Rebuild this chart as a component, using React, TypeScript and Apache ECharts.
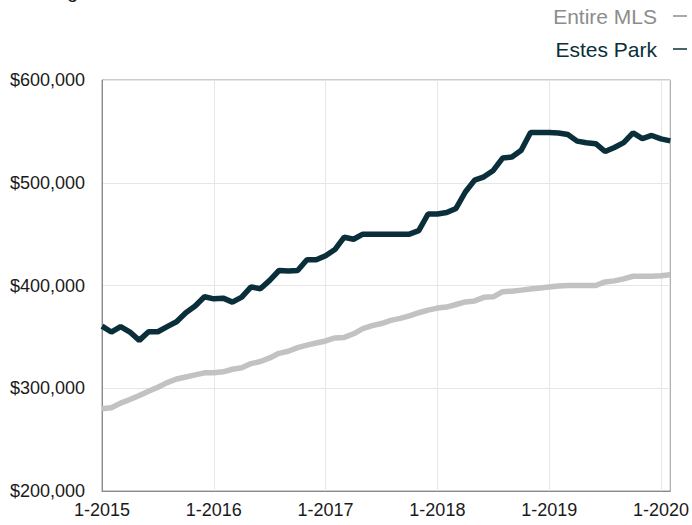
import React, { useEffect, useRef } from "react";
import * as echarts from "echarts";

const years = [2015, 2016, 2017, 2018, 2019, 2020];
const lastMonthOf2020 = 2; // data runs through 2-2020

const entireMLS = [
  280000, 281000, 285500, 289000, 293000, 297000, 301000, 305500, 309000, 311000, 313000, 315000,
  315000, 316000, 318500, 320000, 324000, 326000, 329500, 334000, 336000, 339500, 342000, 344000,
  346000, 349000, 349500, 353000, 358000, 361000, 363000, 366000, 368000, 370500, 373500, 376000,
  378000, 379000, 381500, 384000, 385000, 388500, 389000, 394000, 394500, 395500, 396500, 397500,
  398500, 399500, 400000, 400000, 400000, 400000, 403500, 404500, 406500, 409000, 409000, 409000,
  409500, 410500,
];

const estesPark = [
  360500, 354700, 360000, 354700, 346600, 355000, 355000, 360000, 364700, 373500, 380000, 389000,
  387000, 387700, 383800, 388700, 398700, 396800, 405000, 414600, 414000, 414600, 425000, 425000,
  429000, 435000, 447000, 445000, 450000, 450000, 450000, 450000, 450000, 450000, 453400, 469600,
  469600, 471000, 475000, 491000, 502600, 505800, 512000, 524000, 525000, 531700, 549000, 549000,
  549000, 548500, 547000, 540500, 539000, 538000, 530400, 534300, 539000, 548500, 543000, 546000,
  542700, 540800,
];

const yTicks = [200000, 300000, 400000, 500000, 600000];
const seriesNames = ["Entire MLS", "Estes Park"];
const titleText = "Rolling 12-Month Calculation";

const months: string[] = [];
years.forEach((y) => {
  const n = y === 2020 ? lastMonthOf2020 : 12;
  for (let m = 1; m <= n; m++) months.push(`${m}-${y}`);
});

const FONT = '"Liberation Sans", Arial, Helvetica, sans-serif';
const DARK = "#0a2f3a";
const GRAY = "#c2c2c2";

function money(v: number) {
  return "$" + String(v).replace(/\B(?=(\d{3})+(?!\d))/g, ",");
}

export default function App() {
  const ref = useRef<HTMLDivElement>(null);
  useEffect(() => {
    if (!ref.current) return;
    const chart = echarts.init(ref.current, undefined, { renderer: "svg" });
    chart.setOption({
      animation: false,
      backgroundColor: "#ffffff",
      textStyle: { fontFamily: FONT },
      grid: {
        left: 102,
        right: 19,
        top: 80,
        bottom: 34,
        show: true,
        borderColor: "#9a9a9a",
        borderWidth: 1,
        containLabel: false,
      },
      xAxis: {
        type: "category",
        data: months,
        boundaryGap: false,
        axisLine: { show: true, lineStyle: { color: "#8a8a8a", width: 1 } },
        axisTick: { show: false },
        axisLabel: {
          interval: (i: number) => i % 12 === 0,
          color: "#1a1a1a",
          fontSize: 18,
          fontFamily: FONT,
          margin: 10,
        },
        splitLine: {
          show: true,
          interval: (i: number) => i % 12 === 0,
          lineStyle: { color: "#e6e6e6", width: 1 },
        },
      },
      yAxis: {
        type: "value",
        min: yTicks[0],
        max: yTicks[yTicks.length - 1],
        interval: 100000,
        axisLine: { show: true, lineStyle: { color: "#8a8a8a", width: 1 } },
        axisTick: { show: false },
        axisLabel: {
          formatter: (v: number) => money(v),
          color: "#1a1a1a",
          fontSize: 18,
          fontFamily: FONT,
          margin: 17,
        },
        splitLine: { show: true, lineStyle: { color: "#e6e6e6", width: 1 } },
      },
      series: [
        {
          name: seriesNames[0],
          type: "line",
          data: entireMLS,
          showSymbol: false,
          lineStyle: { color: GRAY, width: 5.5 },
          itemStyle: { color: GRAY },
          z: 2,
        },
        {
          name: seriesNames[1],
          type: "line",
          data: estesPark,
          showSymbol: false,
          lineStyle: { color: DARK, width: 5.5 },
          itemStyle: { color: DARK },
          z: 3,
        },
      ],
      graphic: [
        {
          type: "text",
          left: 17,
          top: -19,
          style: {
            text: titleText,
            fill: "#222222",
            fontSize: 20,
            fontFamily: FONT,
          },
        },
        {
          type: "text",
          x: 657,
          y: 16,
          style: {
            text: seriesNames[0],
            fill: "#8c8c8c",
            fontSize: 21,
            fontFamily: FONT,
            align: "right",
            verticalAlign: "middle",
          },
        },
        {
          type: "line",
          shape: { x1: 673, y1: 16, x2: 687, y2: 16 },
          style: { stroke: "#8c8c8c", lineWidth: 1.5 },
        },
        {
          type: "text",
          x: 657,
          y: 49,
          style: {
            text: seriesNames[1],
            fill: DARK,
            fontSize: 21,
            fontFamily: FONT,
            align: "right",
            verticalAlign: "middle",
          },
        },
        {
          type: "line",
          shape: { x1: 673, y1: 49, x2: 687, y2: 49 },
          style: { stroke: DARK, lineWidth: 1.5 },
        },
      ],
    });
    return () => chart.dispose();
  }, []);
  return (
    <div
      ref={ref}
      style={{ position: "absolute", left: 0, top: 0, width: 692, height: 525 }}
    />
  );
}
